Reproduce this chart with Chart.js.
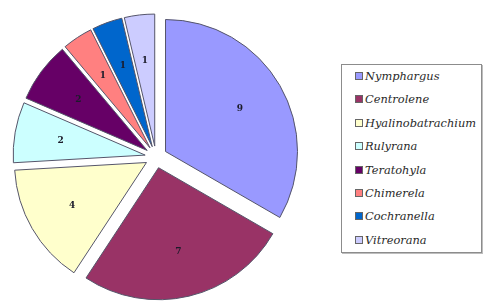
<!DOCTYPE html>
<html>
<head>
<meta charset="utf-8">
<script src="https://cdn.jsdelivr.net/npm/chart.js@4/dist/chart.umd.min.js"></script>
<style>
  body { margin: 0; background: #fff; width: 484px; height: 306px; overflow: hidden; position: relative; }
  #pieBox { position: absolute; left: 0; top: 0; width: 312px; height: 306px; }
  #legend {
    position: absolute; left: 341px; top: 64px; width: 139px; height: 187px;
    border: 1px solid #8c8c8c; box-shadow: 1px 1px 0 #bdbdbd; background: #fff;
    font-family: "DejaVu Serif", "Liberation Serif", serif; font-style: italic; font-size: 11.4px; color: #2a2a2a;
  }
  .row { position: absolute; left: 13px; height: 14px; line-height: 14px; white-space: nowrap; }
  .sw { display: inline-block; width: 6px; height: 6px; border: 1px solid #666; margin-right: 2px; vertical-align: 0px; }
</style>
</head>
<body>
<div id="pieBox"><canvas id="pieChart"></canvas></div>
<div id="legend"></div>
<script>
// ------------------- Data -------------------
const genera = ["Nymphargus", "Centrolene", "Hyalinobatrachium", "Rulyrana", "Teratohyla", "Chimerela", "Cochranella", "Vitreorana"];
const speciesCount = [9, 7, 4, 2, 2, 1, 1, 1];
const sliceColors = ["#9999FF", "#993366", "#FFFFCC", "#CCFFFF", "#660066", "#FF8080", "#0066CC", "#CCCCFF"];
const sliceGap = 11; // every slice pulled out by this many px

// ------------------- Legend (html) -------------------
const legend = document.getElementById("legend");
genera.forEach((name, i) => {
  let row = document.createElement("div");
  row.className = "row";
  row.style.top = (4 + i * 23.4) + "px";
  row.innerHTML = `<span class="sw" style="background:${sliceColors[i]}"></span>${name}`;
  legend.appendChild(row);
});

// chart.js "offset" also grows small slices, so move arcs ourselves instead
const baseArcDraw = Chart.ArcElement.prototype.draw;
Chart.ArcElement.prototype.draw = function(ctx) {
  const mid = (this.startAngle + this.endAngle) / 2;
  ctx.save();
  ctx.translate(Math.cos(mid) * sliceGap, Math.sin(mid) * sliceGap);
  baseArcDraw.call(this, ctx);
  ctx.restore();
};

// ------------------- Value labels inside slices -------------------
const sliceLabels = {
  id: "sliceLabels",
  afterDatasetsDraw(chart) {
    const ctx = chart.ctx;
    const meta = chart.getDatasetMeta(0);
    ctx.save();
    ctx.font = "bold 9px 'DejaVu Serif', serif";
    ctx.fillStyle = "#1b1b2a";
    ctx.textAlign = "center";
    ctx.textBaseline = "middle";
    meta.data.forEach((arc, i) => {
      const p = arc.getProps(["x", "y", "startAngle", "endAngle", "outerRadius"], true);
      const mid = (p.startAngle + p.endAngle) / 2;
      const d = sliceGap + p.outerRadius * 0.65;
      ctx.fillText(String(speciesCount[i]), p.x + Math.cos(mid) * d, p.y + Math.sin(mid) * d);
    });
    ctx.restore();
  }
};

// ------------------- Pie -------------------
new Chart(document.getElementById("pieChart").getContext("2d"), {
  type: "pie",
  data: {
    labels: genera,
    datasets: [{
      data: speciesCount,
      backgroundColor: sliceColors,
      borderColor: "#55556a",
      borderWidth: 1
    }]
  },
  options: {
    responsive: true,
    maintainAspectRatio: false,
    animation: false,
    radius: 132,
    layout: { padding: { top: 8, bottom: 0, left: 0, right: 0 } },
    plugins: { legend: { display: false }, tooltip: { enabled: false } }
  },
  plugins: [sliceLabels]
});
</script>
</body>
</html>
